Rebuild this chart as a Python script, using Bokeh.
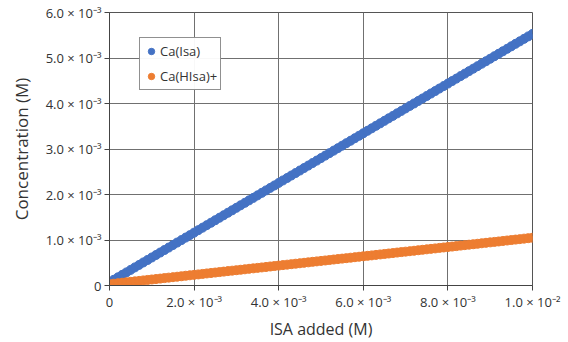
from bokeh.plotting import figure
from bokeh.models import FixedTicker, Range1d, Legend, LegendItem
from bokeh.embed import file_html
from bokeh.resources import INLINE

# ISA added, in mM (10^-3 M)
isa_added_mM = [0.0, 0.1, 0.2, 0.3, 0.4, 0.5, 0.6, 0.7, 0.8, 0.9,
                1.0, 1.1, 1.2, 1.3, 1.4, 1.5, 1.6, 1.7, 1.8, 1.9,
                2.0, 2.1, 2.2, 2.3, 2.4, 2.5, 2.6, 2.7, 2.8, 2.9,
                3.0, 3.1, 3.2, 3.3, 3.4, 3.5, 3.6, 3.7, 3.8, 3.9,
                4.0, 4.1, 4.2, 4.3, 4.4, 4.5, 4.6, 4.7, 4.8, 4.9,
                5.0, 5.1, 5.2, 5.3, 5.4, 5.5, 5.6, 5.7, 5.8, 5.9,
                6.0, 6.1, 6.2, 6.3, 6.4, 6.5, 6.6, 6.7, 6.8, 6.9,
                7.0, 7.1, 7.2, 7.3, 7.4, 7.5, 7.6, 7.7, 7.8, 7.9,
                8.0, 8.1, 8.2, 8.3, 8.4, 8.5, 8.6, 8.7, 8.8, 8.9,
                9.0, 9.1, 9.2, 9.3, 9.4, 9.5, 9.6, 9.7, 9.8, 9.9, 10.0]
# Ca(Isa) concentration, mM
ca_isa_mM = [0.070, 0.125, 0.179, 0.234, 0.288, 0.343, 0.398, 0.452, 0.507, 0.561,
             0.616, 0.671, 0.725, 0.780, 0.834, 0.889, 0.944, 0.998, 1.053, 1.107,
             1.162, 1.217, 1.271, 1.326, 1.380, 1.435, 1.490, 1.544, 1.599, 1.653,
             1.708, 1.763, 1.817, 1.872, 1.926, 1.981, 2.036, 2.090, 2.145, 2.199,
             2.254, 2.309, 2.363, 2.418, 2.472, 2.527, 2.582, 2.636, 2.691, 2.745,
             2.800, 2.855, 2.909, 2.964, 3.018, 3.073, 3.128, 3.182, 3.237, 3.291,
             3.346, 3.401, 3.455, 3.510, 3.564, 3.619, 3.674, 3.728, 3.783, 3.837,
             3.892, 3.947, 4.001, 4.056, 4.110, 4.165, 4.220, 4.274, 4.329, 4.383,
             4.438, 4.493, 4.547, 4.602, 4.656, 4.711, 4.766, 4.820, 4.875, 4.929,
             4.984, 5.039, 5.093, 5.148, 5.202, 5.257, 5.312, 5.366, 5.421, 5.475, 5.530]
# Ca(HIsa)+ concentration, mM
ca_hisa_mM = [0.030, 0.040, 0.050, 0.061, 0.071, 0.081, 0.091, 0.101, 0.112, 0.122,
              0.132, 0.142, 0.152, 0.163, 0.173, 0.183, 0.193, 0.203, 0.214, 0.224,
              0.234, 0.244, 0.254, 0.265, 0.275, 0.285, 0.295, 0.305, 0.316, 0.326,
              0.336, 0.346, 0.356, 0.367, 0.377, 0.387, 0.397, 0.407, 0.418, 0.428,
              0.438, 0.448, 0.458, 0.469, 0.479, 0.489, 0.499, 0.509, 0.520, 0.530,
              0.540, 0.550, 0.560, 0.571, 0.581, 0.591, 0.601, 0.611, 0.622, 0.632,
              0.642, 0.652, 0.662, 0.673, 0.683, 0.693, 0.703, 0.713, 0.724, 0.734,
              0.744, 0.754, 0.764, 0.775, 0.785, 0.795, 0.805, 0.815, 0.826, 0.836,
              0.846, 0.856, 0.866, 0.877, 0.887, 0.897, 0.907, 0.917, 0.928, 0.938,
              0.948, 0.958, 0.968, 0.979, 0.989, 0.999, 1.009, 1.019, 1.030, 1.040, 1.050]

series_names = ["Ca(Isa)", "Ca(HIsa)+"]
series_colors = ["#4472C4", "#ED7D31"]

x_ticks = [0.0, 0.002, 0.004, 0.006, 0.008, 0.01]
x_tick_labels = ["0", "2.0 × 10⁻³", "4.0 × 10⁻³", "6.0 × 10⁻³", "8.0 × 10⁻³", "1.0 × 10⁻²"]
y_ticks = [0.0, 0.001, 0.002, 0.003, 0.004, 0.005, 0.006]
y_tick_labels = ["0", "1.0 × 10⁻³", "2.0 × 10⁻³", "3.0 × 10⁻³", "4.0 × 10⁻³", "5.0 × 10⁻³", "6.0 × 10⁻³"]

x_M = [v * 1e-3 for v in isa_added_mM]
y1_M = [v * 1e-3 for v in ca_isa_mM]
y2_M = [v * 1e-3 for v in ca_hisa_mM]

FONT = "Open Sans"
TXT = "#333333"

p = figure(width=568, height=342, output_backend="svg", toolbar_location=None,
           x_range=Range1d(0, 0.01), y_range=Range1d(0, 0.006))
p.min_border_left = 109
p.min_border_right = 36
p.min_border_top = 12
p.min_border_bottom = 57
p.background_fill_color = "white"
p.border_fill_color = "white"
p.outline_line_color = "#555555"
p.outline_line_width = 1

for ax in (p.xaxis[0], p.yaxis[0]):
    ax.major_label_text_font = FONT
    ax.major_label_text_font_size = "13px"
    ax.major_label_text_color = TXT
    ax.axis_label_text_font = FONT
    ax.axis_label_text_font_style = "normal"
    ax.axis_label_text_color = TXT
    ax.axis_line_color = "#444444"
    ax.major_tick_line_color = "#444444"
    ax.major_tick_in = 0
    ax.major_tick_out = 5
    ax.minor_tick_line_color = None

p.xaxis.axis_label_text_font_size = "16px"
p.yaxis.axis_label_text_font_size = "17px"
p.xaxis.ticker = FixedTicker(ticks=x_ticks)
p.yaxis.ticker = FixedTicker(ticks=y_ticks)
p.xaxis.major_label_overrides = dict(zip(x_ticks, x_tick_labels))
p.yaxis.major_label_overrides = dict(zip(y_ticks, y_tick_labels))
p.xaxis.axis_label = "ISA added (M)"
p.yaxis.axis_label = "Concentration (M)"
p.xaxis.major_label_standoff = 2
p.yaxis.major_label_standoff = 3
p.xaxis.axis_label_standoff = 4
p.yaxis.axis_label_standoff = 10

p.xgrid.ticker = FixedTicker(ticks=x_ticks)
p.ygrid.ticker = FixedTicker(ticks=y_ticks)
p.grid.grid_line_color = "#707070"
p.grid.grid_line_width = 1

r1 = p.scatter(x_M, y1_M, size=9, color=series_colors[0], marker="circle")
r2 = p.scatter(x_M, y2_M, size=9, color=series_colors[1], marker="circle")

legend = Legend(items=[LegendItem(label=series_names[0], renderers=[r1]),
                       LegendItem(label=series_names[1], renderers=[r2])],
                location=(30, 195))
legend.label_text_font = FONT
legend.label_text_font_size = "13px"
legend.label_text_color = TXT
legend.border_line_color = "#222222"
legend.border_line_width = 1.5
legend.glyph_width = 16
legend.glyph_height = 16
legend.label_height = 20
legend.label_standoff = 1
legend.spacing = 5
legend.padding = 3
legend.margin = 0
p.add_layout(legend, "center")

open("out.html", "w").write(file_html(p, INLINE))
